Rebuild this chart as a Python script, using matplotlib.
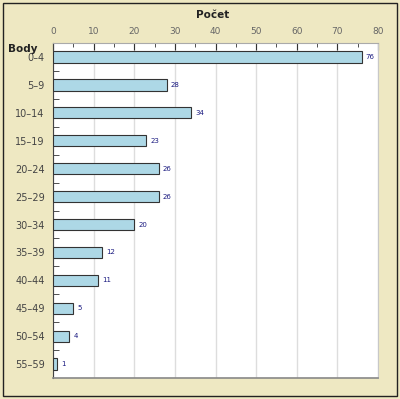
import matplotlib
matplotlib.use("Agg")
import matplotlib.pyplot as plt
from matplotlib.patches import Rectangle
from matplotlib.ticker import MultipleLocator

categories = ["0–4", "5–9", "10–14", "15–19", "20–24", "25–29", "30–34",
              "35–39", "40–44", "45–49", "50–54", "55–59"]
values = [76, 28, 34, 23, 26, 26, 20, 12, 11, 5, 4, 1]
xticks = [0, 10, 20, 30, 40, 50, 60, 70, 80]

bg = "#EEE8C2"
fig = plt.figure(figsize=(4.0, 3.99), dpi=100, facecolor=bg)
fig.patches.append(Rectangle((0.008, 0.008), 0.984, 0.984, transform=fig.transFigure,
                             fill=False, edgecolor="#222222", linewidth=1.0))
ax = fig.add_axes([0.1325, 0.0526, 0.8125, 0.8394])
ax.set_facecolor("white")

n = len(categories)
ypos = list(range(n))
ax.barh(ypos, values, height=0.4, color="#ADD8E6", edgecolor="#333333", linewidth=0.8, zorder=3)
for y, v in zip(ypos, values):
    ax.text(v + 1.0, y, str(v), va="center", ha="left", fontsize=5, color="#1a1a80", zorder=4)

ax.set_xlim(0, 80)
ax.set_ylim(n - 0.5, -0.5)
ax.xaxis.tick_top()
ax.set_xticks(xticks)
ax.xaxis.set_minor_locator(MultipleLocator(5))
ax.tick_params(axis="x", which="major", direction="in", length=5, labelsize=6.5,
               colors="#333333", labelcolor="#666666", pad=5)
ax.tick_params(axis="x", which="minor", direction="in", length=3, color="#333333")
ax.set_yticks(ypos)
ax.set_yticklabels(categories)
ax.set_yticks([i + 0.5 for i in range(n - 1)], minor=True)
ax.tick_params(axis="y", which="major", length=0, labelsize=7, labelcolor="#444444", pad=6)
ax.tick_params(axis="y", which="minor", direction="in", length=4, color="#333333")
ax.grid(axis="x", which="major", color="#dddddd", linewidth=1.0, zorder=0)

ax.spines["left"].set_color("#444444")
ax.spines["top"].set_color("#aaaaaa")
ax.spines["right"].set_color("#c8c8c8")
ax.spines["bottom"].set_color("#888888")
ax.spines["bottom"].set_linewidth(1.2)

fig.text(0.5325, 0.962, "Počet", ha="center", va="center", fontsize=7.5, fontweight="bold", color="#222222")
fig.text(0.02, 0.878, "Body", ha="left", va="center", fontsize=7.5, fontweight="bold", color="#222222")

fig.savefig("out.png", dpi=100, facecolor=bg)
